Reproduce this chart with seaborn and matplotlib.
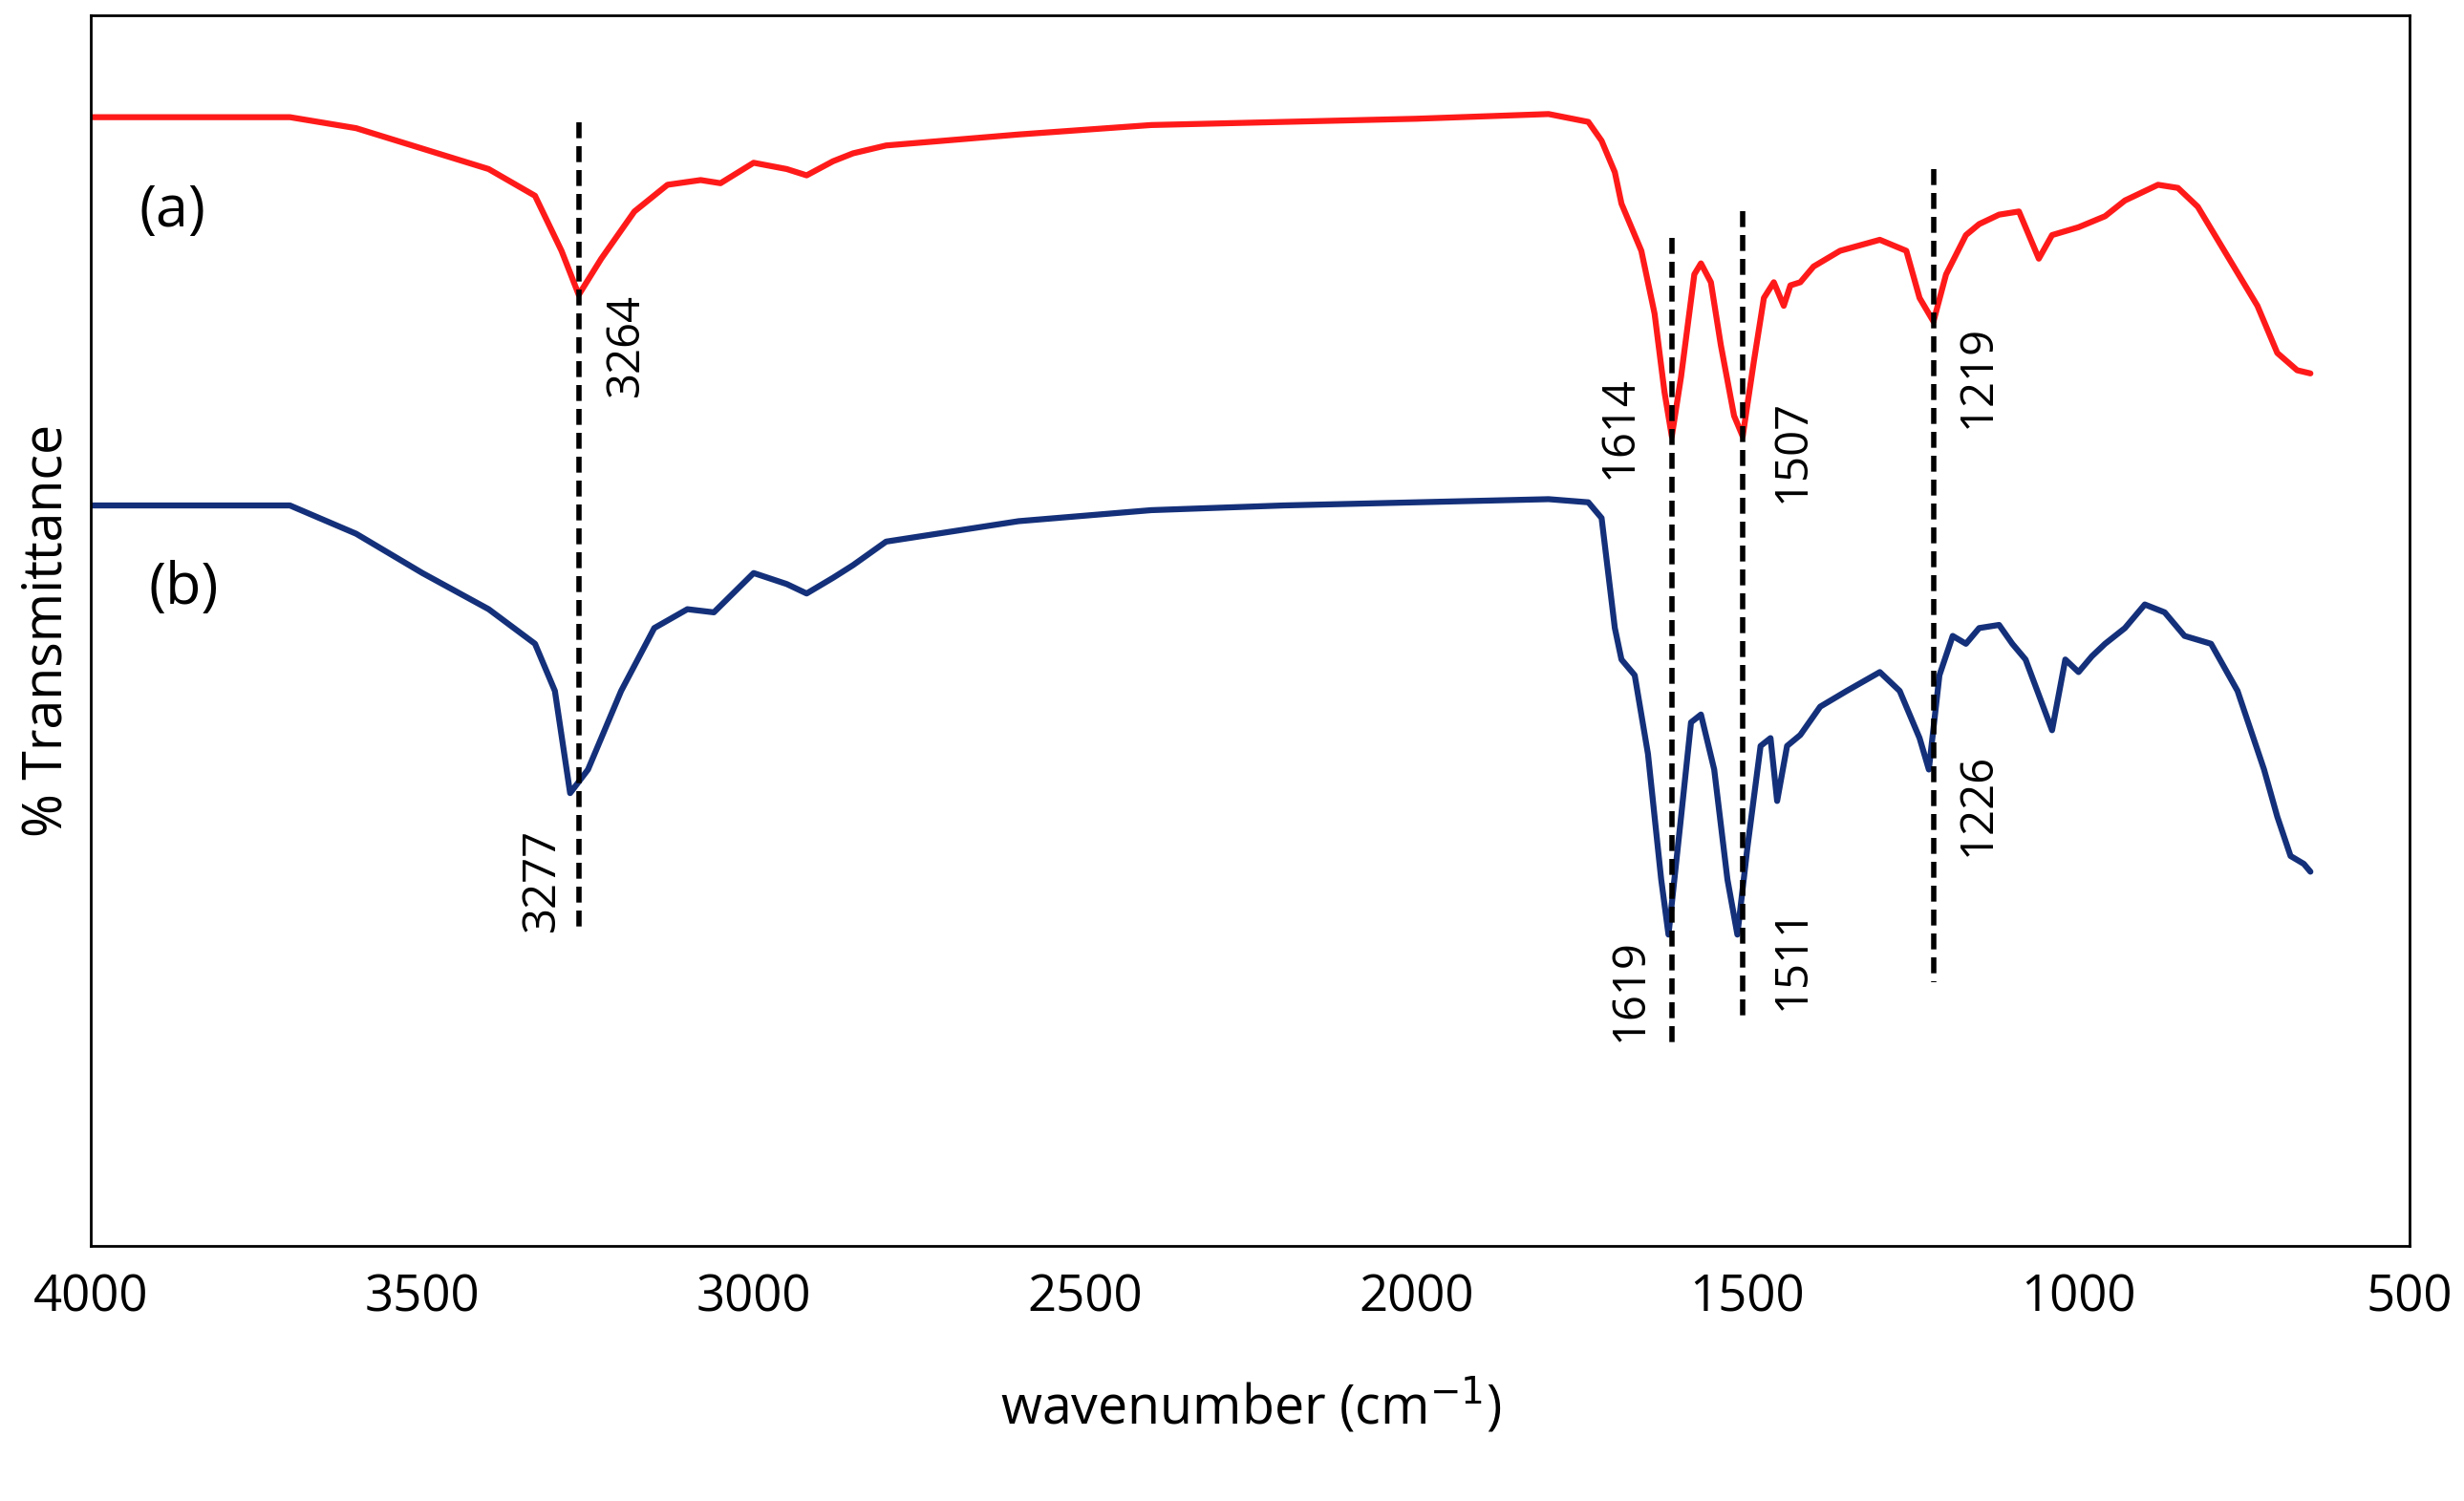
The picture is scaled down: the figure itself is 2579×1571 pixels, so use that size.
import numpy as np
import pandas as pd
import matplotlib
matplotlib.use("Agg")
import matplotlib.pyplot as plt
import seaborn as sns

# === Data (y in arbitrary %T units, 0 = bottom, 100 = top of axes) ===
wn_a = [4000, 3700, 3600, 3500, 3400, 3330, 3290, 3264, 3230, 3180, 3130, 3080, 3050, 3000, 2950, 2920,
        2880, 2850, 2800, 2600, 2400, 2200, 2000, 1800, 1740, 1720, 1700, 1690, 1660, 1640, 1625, 1614,
        1600, 1580, 1570, 1555, 1540, 1520, 1507, 1490, 1475, 1460, 1445, 1435, 1420, 1400, 1360, 1300,
        1260, 1240, 1219, 1200, 1170, 1150, 1120, 1090, 1060, 1040, 1000, 960, 930, 880, 850, 820, 780,
        730, 700, 670, 650]
px_a = [75, 75, 82, 95, 108, 125, 160, 188, 165, 135, 118, 115, 117, 104, 108, 112,
        103, 98, 93, 86, 80, 78, 76, 73, 78, 90, 110, 130, 160, 200, 250, 278,
        240, 175, 168, 180, 220, 265, 278, 230, 190, 180, 195, 182, 180, 170, 160, 153,
        160, 190, 205, 175, 150, 143, 137, 135, 165, 150, 145, 138, 128, 118, 120, 132, 160,
        195, 225, 236, 238]

wn_b = [4000, 3700, 3600, 3500, 3400, 3330, 3300, 3277, 3250, 3200, 3150, 3100, 3060, 3000, 2950, 2920,
        2880, 2850, 2800, 2600, 2400, 2200, 2000, 1800, 1740, 1720, 1700, 1690, 1670, 1650, 1630, 1619,
        1600, 1585, 1570, 1550, 1530, 1515, 1500, 1480, 1465, 1455, 1440, 1420, 1390, 1350, 1300, 1270,
        1240, 1226, 1210, 1190, 1170, 1150, 1120, 1100, 1080, 1040, 1020, 1000, 980, 960, 930, 900,
        870, 840, 800, 760, 720, 700, 680, 660, 650]
px_b = [322, 322, 340, 365, 388, 410, 440, 505, 490, 440, 400, 388, 390, 365, 372, 378,
        368, 360, 345, 332, 325, 322, 320, 318, 320, 330, 400, 420, 430, 480, 560, 595,
        520, 460, 455, 490, 560, 595, 540, 475, 470, 510, 475, 468, 450, 440, 428, 440,
        470, 490, 430, 405, 410, 400, 398, 410, 420, 465, 420, 428, 418, 410, 400, 385,
        390, 405, 410, 440, 490, 520, 545, 550, 555]

# marker lines: wavenumber, top, bottom (same scale as px_*)
mark_wn = [3264, 1614, 1507, 1219]
mark_top = [78, 152, 135, 108]
mark_bot = [595, 668, 650, 625]

# peak labels: text, wavenumber position, vertical center
peak_text = ["3264", "3277", "1614", "1507", "1219", "1619", "1511", "1226"]
peak_wn = [3193, 3319, 1693, 1432, 1152, 1677, 1432, 1152]
peak_px = [220, 560, 272, 287, 240, 630, 610, 512]


def to_t(p):
    return (793 - np.asarray(p, dtype=float)) / 7.83


df = pd.concat([
    pd.DataFrame({"wn": wn_a, "T": to_t(px_a), "sample": "a"}),
    pd.DataFrame({"wn": wn_b, "T": to_t(px_b), "sample": "b"}),
])

sns.set_style("white")
plt.rcParams["font.family"] = ["Open Sans", "DejaVu Sans"]
plt.rcParams["text.color"] = "black"

fig = plt.figure(figsize=(25.79, 15.71), dpi=100)
ax = fig.add_axes([0.037, 0.17, 0.941, 0.82])
sns.lineplot(data=df, x="wn", y="T", hue="sample", palette={"a": "#ff1a1a", "b": "#14307a"},
             linewidth=4.5, legend=False, ax=ax, sort=False)

for w, t, b in zip(mark_wn, mark_top, mark_bot):
    ax.plot([w, w], [to_t(t), to_t(b)], color="black", linestyle=(0, (3, 1.5)), linewidth=4)

for s, w, p in zip(peak_text, peak_wn, peak_px):
    ax.text(w, to_t(p), s, rotation=90, ha="center", va="center", fontsize=34)

ax.text(3877, to_t(135), "(a)", fontsize=44, ha="center", va="center")
ax.text(3860, to_t(375), "(b)", fontsize=44, ha="center", va="center")

ax.set_xlim(4000, 500)
ax.set_ylim(0, 100)
ax.set_xticks(range(4000, 499, -500))
ax.set_yticks([])
ax.tick_params(axis="x", labelsize=38, length=8, width=2, direction="out", pad=12,
               labelcolor="black")
for sp in ax.spines.values():
    sp.set_color("black")
    sp.set_linewidth(2)
ax.set_xlabel("wavenumber (cm$^{-1}$)", fontsize=40, labelpad=40, color="black")
ax.set_ylabel("% Transmittance", fontsize=40, labelpad=12, color="black")

fig.savefig("out.png", dpi=100)
